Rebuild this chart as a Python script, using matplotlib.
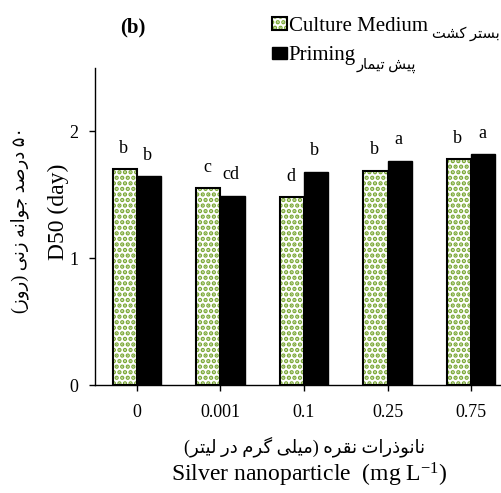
"""Silver nanoparticle effect on D50 -- grouped bar chart, panel (b)."""

import re

import matplotlib

matplotlib.use("Agg")
from matplotlib import pyplot as plt

# data
doses = ["0", "0.001", "0.1", "0.25", "0.75"]
culture_medium = [1.70, 1.55, 1.48, 1.69, 1.78]
priming = [1.645, 1.49, 1.68, 1.77, 1.82]
culture_letters = ["b", "c", "d", "b", "b"]
priming_letters = ["b", "cd", "b", "a", "a"]

# persian presentation forms: isolated, final, initial, medial
FORMS = {
    "ا": ("\ufe8d", "\ufe8e", None, None),
    "ب": ("\ufe8f", "\ufe90", "\ufe91", "\ufe92"),
    "پ": ("\ufb56", "\ufb57", "\ufb58", "\ufb59"),
    "ت": ("\ufe95", "\ufe96", "\ufe97", "\ufe98"),
    "ج": ("\ufe9d", "\ufe9e", "\ufe9f", "\ufea0"),
    "د": ("\ufea9", "\ufeaa", None, None),
    "ذ": ("\ufeab", "\ufeac", None, None),
    "ر": ("\ufead", "\ufeae", None, None),
    "ز": ("\ufeaf", "\ufeb0", None, None),
    "س": ("\ufeb1", "\ufeb2", "\ufeb3", "\ufeb4"),
    "ش": ("\ufeb5", "\ufeb6", "\ufeb7", "\ufeb8"),
    "ص": ("\ufeb9", "\ufeba", "\ufebb", "\ufebc"),
    "ق": ("\ufed5", "\ufed6", "\ufed7", "\ufed8"),
    "ک": ("\ufb8e", "\ufb8f", "\ufb90", "\ufb91"),
    "گ": ("\ufb92", "\ufb93", "\ufb94", "\ufb95"),
    "ل": ("\ufedd", "\ufede", "\ufedf", "\ufee0"),
    "م": ("\ufee1", "\ufee2", "\ufee3", "\ufee4"),
    "ن": ("\ufee5", "\ufee6", "\ufee7", "\ufee8"),
    "ه": ("\ufee9", "\ufeea", "\ufeeb", "\ufeec"),
    "و": ("\ufeed", "\ufeee", None, None),
    "ی": ("\ufbfc", "\ufbfd", "\ufbfe", "\ufbff"),
}


def fa(text):
    """Shape persian letters and put them in visual (left to right) order."""
    shaped = []
    for i, ch in enumerate(text):
        if ch not in FORMS:
            shaped.append(ch)
            continue
        iso, fin, ini, med = FORMS[ch]
        prev = text[i - 1] if i > 0 else ""
        nxt = text[i + 1] if i + 1 < len(text) else ""
        join_prev = prev in FORMS and FORMS[prev][2] is not None
        join_next = ini is not None and nxt in FORMS
        if join_prev and join_next:
            shaped.append(med)
        elif join_prev:
            shaped.append(fin)
        elif join_next:
            shaped.append(ini)
        else:
            shaped.append(iso)
    tokens = re.findall(r"[0-9\u06f0-\u06f9]+|.", "".join(shaped))
    mirror = {"(": ")", ")": "("}
    return "".join(mirror.get(t, t) for t in reversed(tokens))


plt.rcParams["font.family"] = ["Liberation Serif", "DejaVu Sans"]
plt.rcParams["hatch.linewidth"] = 2.2

W, H = 502, 493
fig = plt.figure(figsize=(W / 100, H / 100), dpi=100)
ax = fig.add_axes([95 / W, 1 - 385 / H, (513 - 95) / W, (385 - 68) / H])

x = list(range(len(doses)))
bw = 0.29
xg = [i - bw / 2 for i in x]
xp = [i + bw / 2 for i in x]

green = "#78a632"
dots = ax.bar(xg, culture_medium, bw, color="white", edgecolor=green,
              hatch="...", linewidth=0)
frame = ax.bar(xg, culture_medium, bw, fill=False, edgecolor="black",
               linewidth=1.5)
black = ax.bar(xp, priming, bw, color="black", edgecolor="black",
               linewidth=1.0)

for xs, ys, labs in [(xg, culture_medium, culture_letters),
                     (xp, priming, priming_letters)]:
    for xi, yi, lab in zip(xs, ys, labs):
        ax.annotate(lab, (xi, yi), xytext=(-1, 12), textcoords="offset points",
                    ha="center", va="baseline", fontsize=13)

ax.set_xlim(-0.5, 4.5)
ax.set_ylim(0, 2.5)
ax.set_yticks([0, 1, 2])
ax.set_xticks(x)
ax.set_xticklabels(doses)
ax.tick_params(direction="out", length=4, width=1, labelsize=13)
ax.tick_params(axis="y", pad=8)
ax.tick_params(axis="x", pad=10)
for side in ["top", "right"]:
    ax.spines[side].set_visible(False)
for side in ["left", "bottom"]:
    ax.spines[side].set_linewidth(1)

# axis titles (persian + english)
fig.text(305 / W, 1 - 447 / H, fa("نانوذرات نقره (میلی گرم در لیتر)"),
         ha="center", va="center", fontsize=13)
fig.text(309 / W, 1 - 475 / H, "Silver nanoparticle  (mg L$\\mathregular{^{-1}}$)",
         ha="center", va="center", fontsize=17)
fig.text(20 / W, 1 - 220 / H, fa("۵۰ درصد جوانه زنی (روز)"),
         ha="center", va="center", rotation=90, fontsize=13)
fig.text(58 / W, 1 - 212 / H, "D50 (day)",
         ha="center", va="center", rotation=90, fontsize=17)

fig.text(133 / W, 1 - 27 / H, "(b)", ha="center", va="center",
         fontsize=15, fontweight="bold")

# legend: english part in the legend, persian part written after it
ax.legend([(dots, frame), black], ["Culture Medium", "Priming"],
          loc="upper left", bbox_to_anchor=(272 / W, 1 - 17 / H),
          bbox_transform=fig.transFigure, frameon=False, fontsize=15,
          borderpad=0, borderaxespad=0, handlelength=0.7, handleheight=0.55,
          handletextpad=0.1, labelspacing=0.5)
fig.text(432 / W, 1 - 34 / H, fa("بستر کشت"), ha="left", va="center",
         fontsize=10.5)
fig.text(357 / W, 1 - 65 / H, fa("پیش تیمار"), ha="left", va="center",
         fontsize=10.5)

fig.savefig("out.png", dpi=100)
